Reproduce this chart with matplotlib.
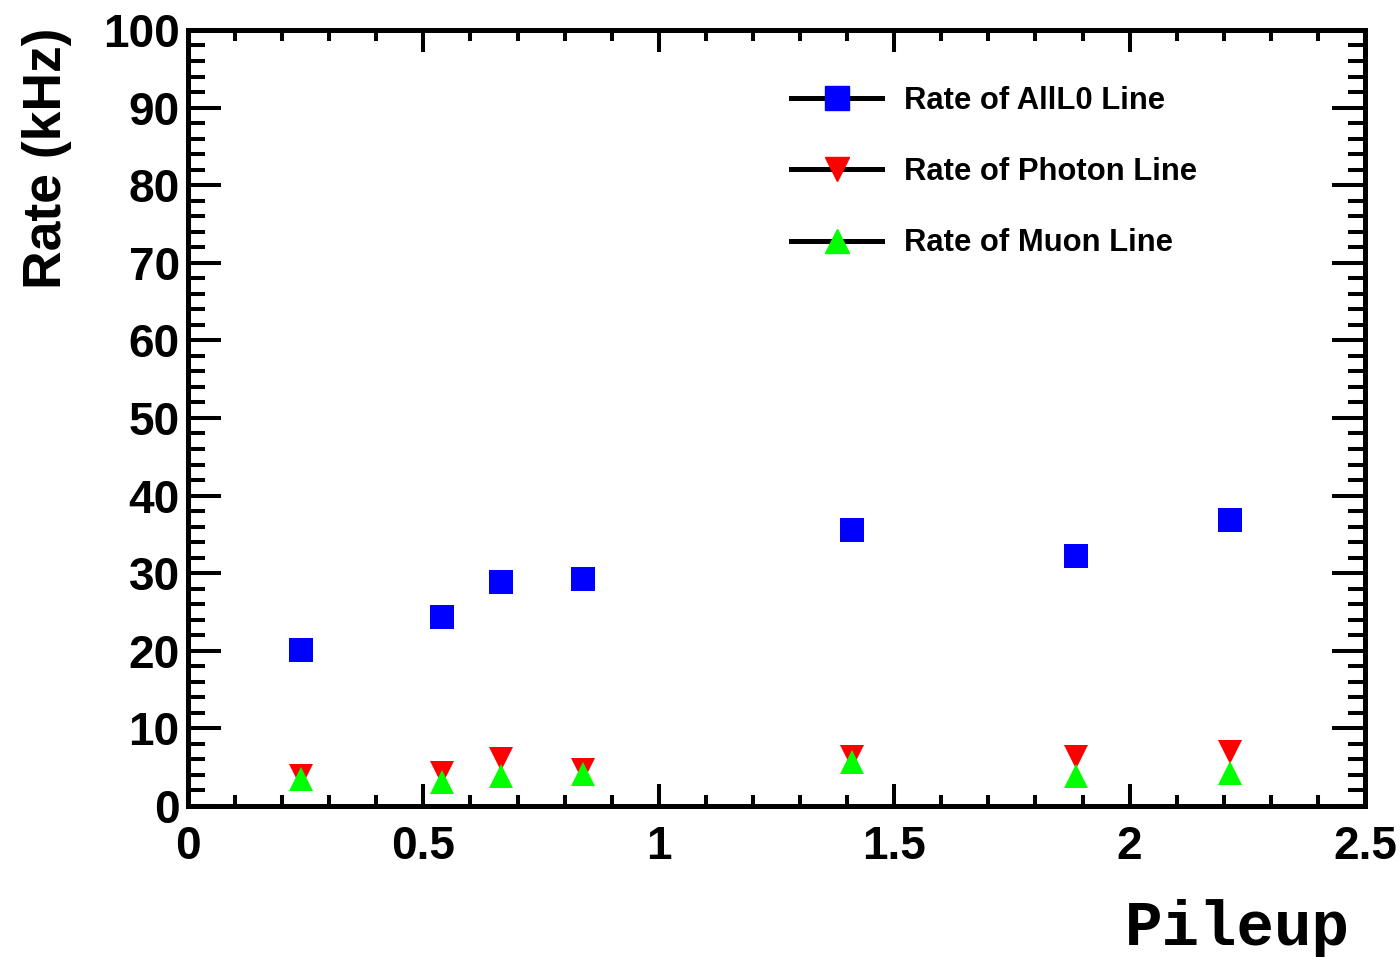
# plot.py
# ROOT-style scatter of trigger line rates vs pileup. Saves out.png.
import matplotlib
matplotlib.use('Agg')
import matplotlib.pyplot as plt
from matplotlib.lines import Line2D
from matplotlib.ticker import MultipleLocator

pileup = [0.24, 0.54, 0.665, 0.84, 1.41, 1.886, 2.213]
rate_alll0 = [20.1, 24.4, 28.9, 29.3, 35.6, 32.2, 36.9]
rate_photon = [3.9, 4.3, 6.1, 4.7, 6.25, 6.25, 6.9]
rate_muon = [3.5, 3.15, 3.8, 4.1, 5.7, 3.9, 4.3]
labels = ['Rate of AllL0 Line', 'Rate of Photon Line', 'Rate of Muon Line']

plt.rcParams['font.family'] = ['Liberation Sans', 'DejaVu Sans']
plt.rcParams['font.weight'] = 'bold'

fig = plt.figure(figsize=(14, 9.57), dpi=100)
ax = fig.add_axes([0.1343, 0.1578, 0.975 - 0.1343, 0.9687 - 0.1578])

ms = 17
ax.plot(pileup, rate_alll0, 's', color='#0000ff', ms=ms, mew=0)
ax.plot(pileup, rate_photon, 'v', color='#ff0000', ms=ms, mew=0)
ax.plot(pileup, rate_muon, '^', color='#00ff00', ms=ms, mew=0)

ax.set_xlim(0, 2.5)
ax.set_ylim(0, 100)
ax.xaxis.set_major_locator(MultipleLocator(0.5))
ax.xaxis.set_minor_locator(MultipleLocator(0.1))
ax.yaxis.set_major_locator(MultipleLocator(10))
ax.yaxis.set_minor_locator(MultipleLocator(2))
ax.xaxis.set_major_formatter(plt.FuncFormatter(lambda v, p: f'{v:g}'))

for s in ax.spines.values():
    s.set_linewidth(3.6)
ax.tick_params(axis='both', which='both', direction='in', top=True, right=True,
               width=2.9, labelsize=33)
ax.tick_params(axis='x', which='major', length=16, pad=14)
ax.tick_params(axis='x', which='minor', length=8)
ax.tick_params(axis='y', which='major', length=24, pad=6)
ax.tick_params(axis='y', which='minor', length=12)

fig.text(47 / 1400, 1 - 28 / 957, 'Rate (kHz)', rotation=90, ha='center', va='top',
         fontsize=38.5, fontweight='bold')
fig.text(1350 / 1400, 1 - 928 / 957, 'Pileup', ha='right', va='center',
         fontsize=45, fontweight='bold', family='Liberation Mono')

handles = [
    Line2D([], [], color='black', lw=3.6, marker='s', mfc='#0000ff', mec='#0000ff', ms=ms),
    Line2D([], [], color='black', lw=3.6, marker='v', mfc='#ff0000', mec='#ff0000', ms=ms),
    Line2D([], [], color='black', lw=3.6, marker='^', mfc='#00ff00', mec='#00ff00', ms=ms),
]
ax.legend(handles, labels, loc='upper left', bbox_to_anchor=(791 / 1400, 1 - 86 / 957),
          bbox_transform=fig.transFigure, frameon=False, fontsize=22.3, handlelength=2.95,
          handletextpad=0.7, labelspacing=1.33, borderaxespad=0, borderpad=0)

fig.savefig('out.png', dpi=100)
plt.close(fig)
